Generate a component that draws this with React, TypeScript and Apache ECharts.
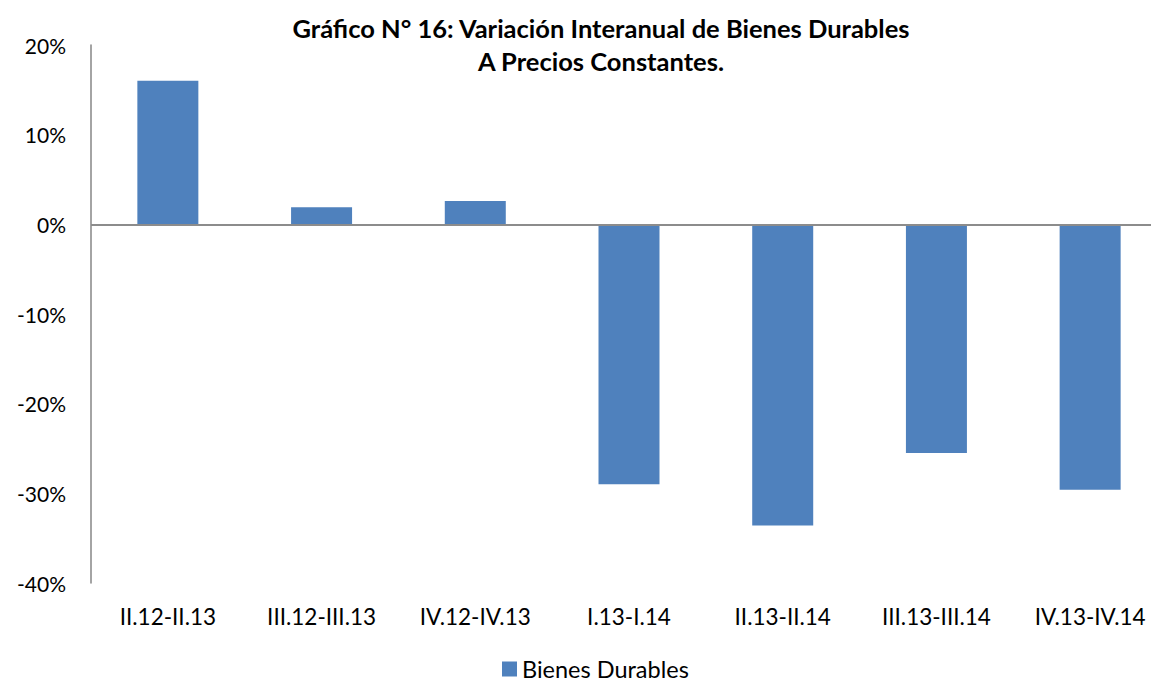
import React, { useEffect, useRef } from "react";
import * as echarts from "echarts";

const categories = ["II.12-II.13", "III.12-III.13", "IV.12-IV.13", "I.13-I.14", "II.13-II.14", "III.13-III.14", "IV.13-IV.14"];
const values = [16.0, 1.9, 2.6, -29.0, -33.6, -25.5, -29.6];
const seriesName = "Bienes Durables";
const titleLines = ["Gráfico N° 16: Variación Interanual de Bienes Durables", "A Precios Constantes."];

const FONT = "Lato";

export default function App() {
  const ref = useRef<HTMLDivElement>(null);
  useEffect(() => {
    if (!ref.current) return;
    const chart = echarts.init(ref.current, null, { renderer: "svg" });
    chart.setOption({
      animation: false,
      backgroundColor: "#ffffff",
      title: {
        text: titleLines.join("\n"),
        left: 596,
        textAlign: "center",
        top: 6,
        textStyle: { fontFamily: FONT, fontWeight: "bold", fontSize: 25.5, lineHeight: 33, color: "#000" },
      },
      legend: {
        top: 652,
        left: 497,
        icon: "rect",
        itemWidth: 15,
        itemHeight: 15,
        textStyle: { fontFamily: FONT, fontSize: 23.5, color: "#000" },
        data: [seriesName],
      },
      grid: { left: 91, right: 0, top: 45, bottom: 100, containLabel: false },
      xAxis: {
        type: "category",
        data: categories,
        axisLine: { show: false, onZero: false },
        axisTick: { show: false },
        axisLabel: { fontFamily: FONT, fontSize: 22.5, color: "#000", margin: 22, interval: 0 },
      },
      yAxis: {
        type: "value",
        min: -40,
        max: 20,
        interval: 10,
        axisLine: { show: true, lineStyle: { color: "#868686", width: 1.5 } },
        axisTick: { show: false },
        splitLine: { show: false },
        axisLabel: { fontFamily: FONT, fontSize: 21, color: "#000", margin: 25, formatter: "{value}%" },
      },
      series: [
        {
          name: seriesName,
          type: "bar",
          data: values,
          barWidth: 61,
          itemStyle: { color: "#4F81BD" },
          markLine: {
            silent: true,
            symbol: ["none", "none"],
            label: { show: false },
            lineStyle: { color: "#8c8c8c", width: 2, type: "solid" },
            data: [{ yAxis: 0 }],
          },
        },
      ],
    });
    return () => chart.dispose();
  }, []);
  return (
    <div style={{ position: "fixed", left: 0, top: 0, width: 1151, height: 683, overflow: "hidden", background: "#fff" }}>
      <div ref={ref} style={{ position: "absolute", left: 0, top: 0, width: 1167, height: 683 }} />
    </div>
  );
}
